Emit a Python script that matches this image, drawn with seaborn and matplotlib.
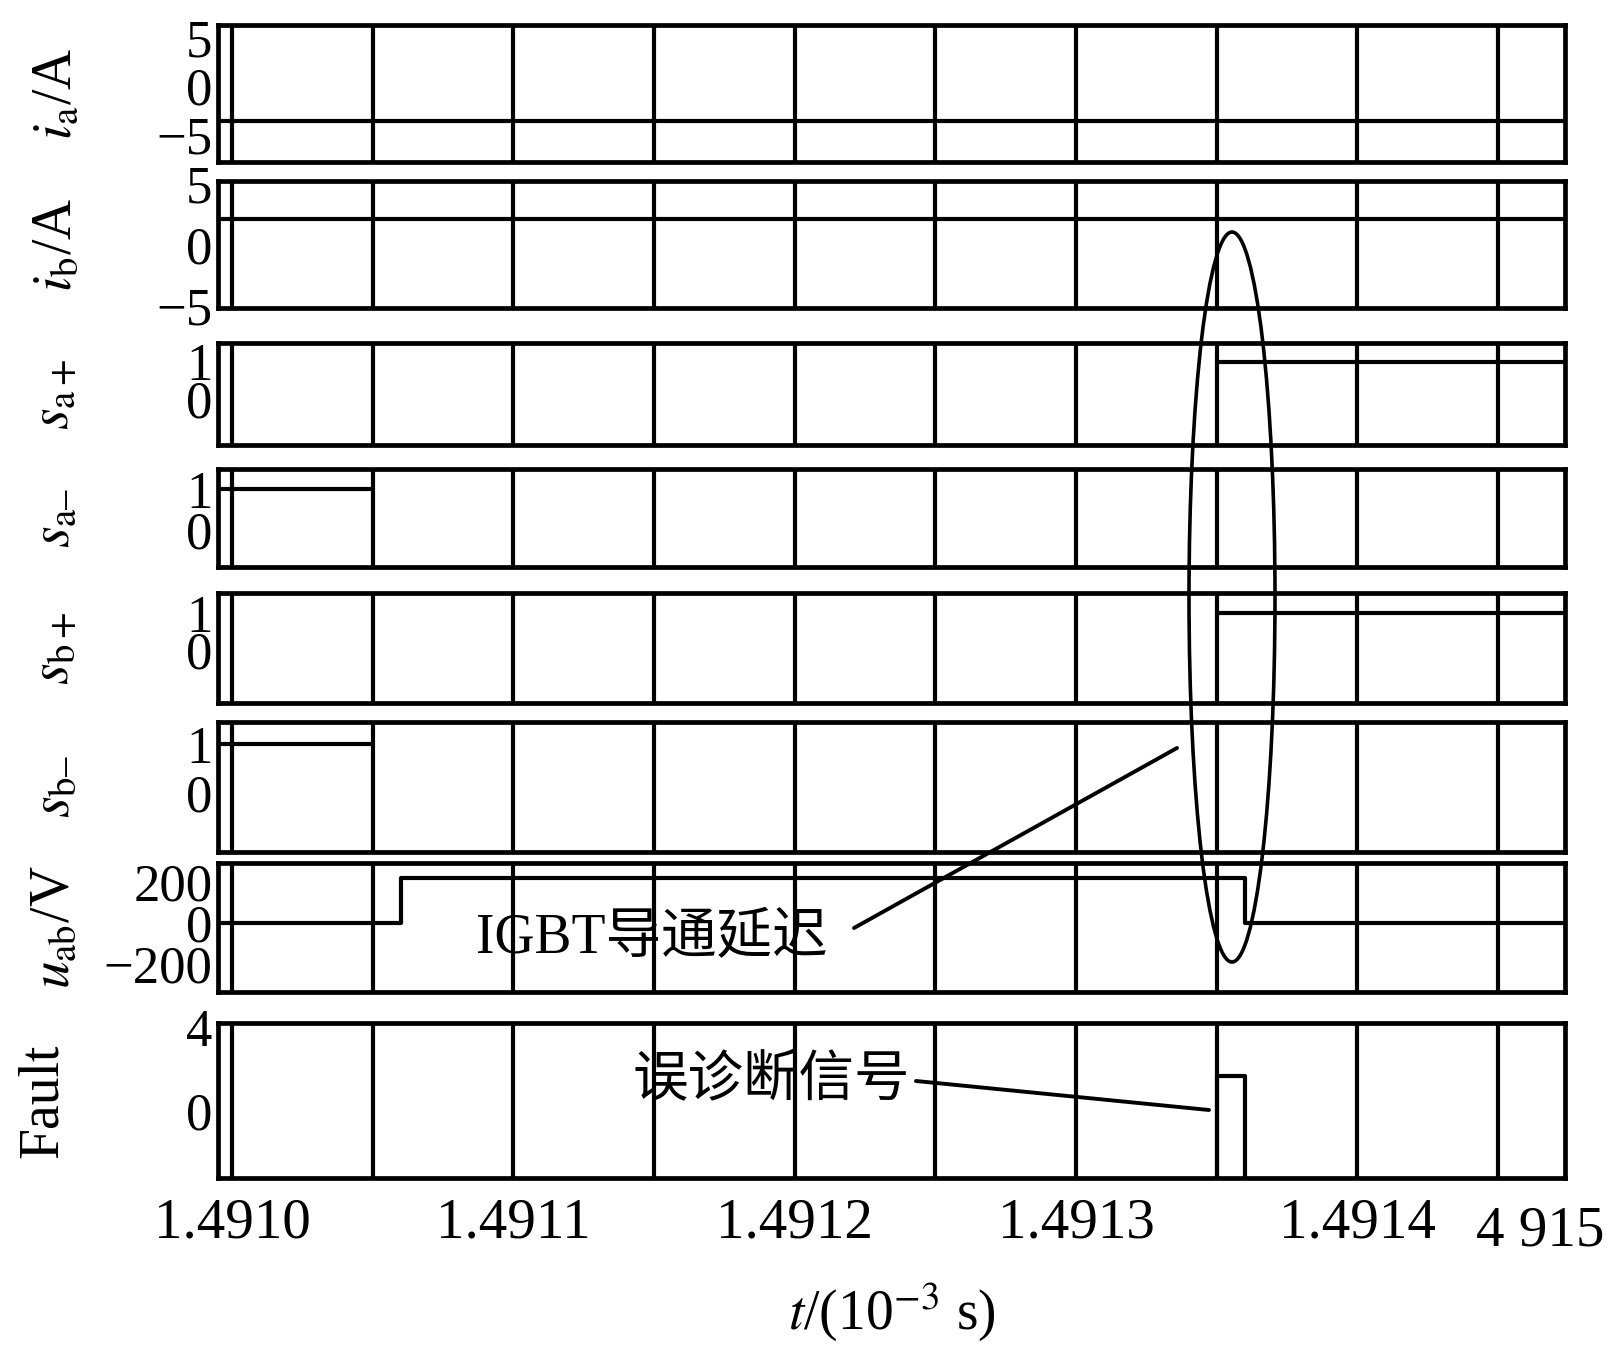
import numpy as np
import matplotlib
matplotlib.use("Agg")
import matplotlib.pyplot as plt
from matplotlib.patches import Ellipse
from matplotlib.lines import Line2D
import seaborn as sns

# signals (time in s)
t_ia = [1.49099, 1.49148]
ia = [-3.6, -3.6]
t_ib = [1.49099, 1.49148]
ib = [2.1, 2.1]
t_sap = [1.49135, 1.49148]
sap = [1, 1]
t_san = [1.49099, 1.49105]
san = [1, 1]
t_sbp = [1.49135, 1.49148]
sbp = [1, 1]
t_sbn = [1.49099, 1.49105]
sbn = [1, 1]
t_uab = [1.49099, 1.49106, 1.49136, 1.49148]
uab = [0, 219, 0, 0]
t_fault = [1.49099, 1.49135, 1.49136, 1.49148]
fault = [-5, 1.7, -5, -5]

x_ticks = [1.4910, 1.4911, 1.4912, 1.4913, 1.4914]
x_ticklabels = ["1.4910", "1.4911", "1.4912", "1.4913", "1.4914"]
grid_t = [1.4910, 1.49105, 1.4911, 1.49115, 1.4912, 1.49125, 1.4913, 1.49135, 1.4914, 1.49145]

sns.set_theme(style="white")
plt.rcParams["font.family"] = ["Liberation Serif", "Noto Sans CJK SC"]
plt.rcParams["mathtext.fontset"] = "stix"
plt.rcParams["axes.unicode_minus"] = True
plt.rcParams["text.color"] = "black"
plt.rcParams["axes.labelcolor"] = "black"
plt.rcParams["xtick.color"] = "black"
plt.rcParams["ytick.color"] = "black"

W, H = 1614, 1349
fig = plt.figure(figsize=(W / 100, H / 100), dpi=100)

def fx(px):
    return px / W

def fy(py):
    return 1 - py / H

# panel: (t, y, ylabel, yticks, ylim, top px, bottom px, label centre px)
panels = [
    (t_ia, ia, r"$i_\mathrm{a}$/A", [-5, 0, 5], (-7.8, 6.3), 25, 162, 57),
    (t_ib, ib, r"$i_\mathrm{b}$/A", [-5, 0, 5], (-5.2, 5.25), 181, 308, 57),
    (t_sap, sap, r"$s_\mathrm{a+}$", [0, 1], (-1.24, 1.51), 343, 445, 54),
    (t_san, san, r"$s_\mathrm{a–}$", [0, 1], (-0.9, 1.49), 469, 567, 54),
    (t_sbp, sbp, r"$s_\mathrm{b+}$", [0, 1], (-1.43, 1.54), 593, 703, 54),
    (t_sbn, sbn, r"$s_\mathrm{b–}$", [0, 1], (-1.2, 1.45), 722, 852, 54),
    (t_uab, uab, r"$u_\mathrm{ab}$/V", [-200, 0, 200], (-333, 290), 863, 992, 54),
    (t_fault, fault, "Fault", [0, 4], (-3.23, 4.24), 1023, 1178, 43),
]

left_px, right_px = 218, 1565
lw = 3.0
axes = []
for i, (t, y, lab, yt, yl, top, bot, lx) in enumerate(panels):
    ax = fig.add_axes([fx(left_px), fy(bot), fx(right_px - left_px), (bot - top) / H])
    sns.lineplot(x=t, y=y, ax=ax, color="black", lw=lw, drawstyle="steps-post", legend=False)
    ax.set_xlim(1.490995, 1.4914738)
    ax.set_ylim(*yl)
    ax.set_yticks(yt)
    ax.set_xticks(grid_t, minor=True)
    ax.set_xticks(x_ticks)
    ax.grid(True, which="both", axis="x", color="black", lw=3.0)
    ax.grid(False, axis="y")
    for s in ax.spines.values():
        s.set_color("black")
        s.set_linewidth(3.4)
    ax.tick_params(axis="y", direction="in", length=11, width=2.4, pad=4,
                   labelsize=38, color="black", labelcolor="black")
    ax.tick_params(axis="x", which="both", length=0)
    if i == len(panels) - 1:
        ax.set_xticklabels(x_ticklabels)
        ax.tick_params(axis="x", labelsize=41, pad=14, labelcolor="black")
        ax.set_xlabel(r"$t$/(10$^{-3}$ s)", fontsize=40, color="black", labelpad=22)
    else:
        ax.set_xticklabels([])
    ax.set_ylabel(lab, fontsize=40, color="black")
    ax.yaxis.label.set_verticalalignment("center")
    ax.yaxis.set_label_coords((lx - left_px) / (right_px - left_px), 0.5)
    axes.append(ax)

# cut-off last tick label at the right edge
fig.text(fx(1540), fy(1232), "4 915", fontsize=41, ha="center", va="center")

# annotations
fig.add_artist(Ellipse((fx(1232), fy(597)), fx(86), 730 / H, transform=fig.transFigure,
                       fill=False, ec="black", lw=2.6))
fig.text(fx(652), fy(939), "IGBT导通延迟", fontsize=40, ha="center", va="center")
fig.add_artist(Line2D([fx(854), fx(1177)], [fy(928), fy(748)], transform=fig.transFigure,
                      color="black", lw=2.8))
fig.text(fx(771), fy(1081), "误诊断信号", fontsize=40, ha="center", va="center")
fig.add_artist(Line2D([fx(916), fx(1209)], [fy(1081), fy(1110)], transform=fig.transFigure,
                      color="black", lw=2.8))

fig.savefig("out.png", dpi=100)
